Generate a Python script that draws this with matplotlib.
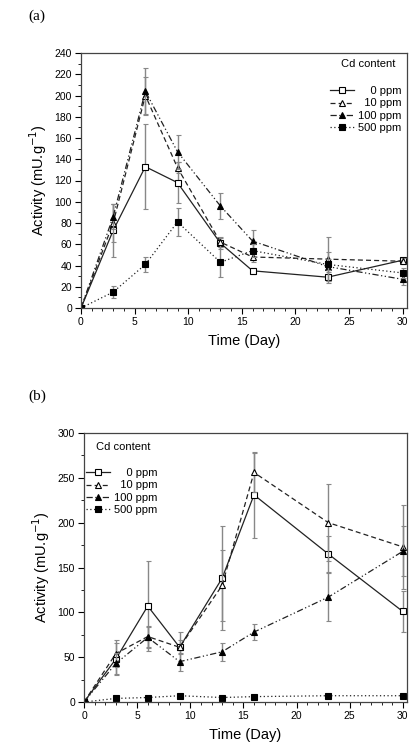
import matplotlib.pyplot as plt
from matplotlib.ticker import MultipleLocator

plt.rcParams['font.family'] = ['Liberation Sans', 'DejaVu Sans']

days = [0, 3, 6, 9, 13, 16, 23, 30]
# figure spaces keep the legend labels right-aligned
labels = ['\u2007\u20070 ppm', '\u200710 ppm', '100 ppm', '500 ppm']

# panel (a)
a_0 = [0, 73, 133, 118, 61, 35, 29, 45]
a_0_err = [0, 25, 40, 19, 5, 3, 5, 2]
a_10 = [0, 80, 200, 132, 62, 48, 46, 44]
a_10_err = [0, 18, 17, 5, 5, 5, 21, 3]
a_100 = [0, 86, 204, 147, 96, 63, 39, 27]
a_100_err = [0, 12, 22, 16, 12, 10, 14, 5]
a_500 = [0, 15, 41, 81, 43, 54, 41, 33]
a_500_err = [0, 6, 7, 13, 14, 6, 5, 5]

# panel (b)
b_0 = [0, 48, 107, 61, 138, 231, 165, 101]
b_0_err = [0, 18, 50, 17, 58, 48, 20, 23]
b_10 = [0, 54, 73, 61, 130, 256, 200, 173]
b_10_err = [0, 15, 12, 8, 40, 22, 43, 47]
b_100 = [0, 43, 72, 45, 56, 78, 117, 168]
b_100_err = [0, 12, 12, 10, 10, 9, 27, 28]
b_500 = [0, 4, 5, 7, 5, 6, 7, 7]
b_500_err = [0, 1, 1, 1, 1, 1, 1, 1]

styles = [
    dict(marker='s', ls='-', mfc='white'),
    dict(marker='^', ls=(0, (4, 2.5)), mfc='white'),
    dict(marker='^', ls=(0, (5, 2, 1, 2, 1, 2)), mfc='black'),
    dict(marker='s', ls=(0, (1, 2)), mfc='black'),
]

W, H = 420, 747


def draw(ax, series, errs, ymax, ymajor, yminor, title_xy, leg_xy):
    for y, e, st, lab in zip(series, errs, styles, labels):
        ax.errorbar(days, y, yerr=e, fmt='none', ecolor='#888888',
                    elinewidth=1.0, capsize=1.8, capthick=0.8)
        ax.plot(days, y, color='#222222', lw=0.9, ms=4.5, mec='black',
                mew=0.8, label=lab, **st)
    ax.set_xlim(0, 30.4)
    ax.set_ylim(0, ymax)
    ax.xaxis.set_major_locator(MultipleLocator(5))
    ax.xaxis.set_minor_locator(MultipleLocator(1))
    ax.yaxis.set_major_locator(MultipleLocator(ymajor))
    ax.yaxis.set_minor_locator(MultipleLocator(yminor))
    ax.tick_params(which='major', direction='out', length=4, labelsize=7.5, pad=2.5)
    ax.tick_params(which='minor', direction='out', length=2)
    for s in ax.spines.values():
        s.set_color('#444444')
        s.set_linewidth(0.9)
    ax.set_xlabel('Time (Day)', fontsize=10.5, labelpad=5)
    ax.set_ylabel('Activity (mU.g$^{-1}$)', fontsize=10.5, labelpad=4)
    fig.text(title_xy[0] / W, 1 - title_xy[1] / H, 'Cd content',
             fontsize=8, ha='center', va='center')
    ax.legend(loc='upper right', bbox_to_anchor=(leg_xy[0] / W, 1 - leg_xy[1] / H),
              bbox_transform=fig.transFigure, frameon=False, borderpad=0,
              borderaxespad=0, fontsize=8, handlelength=2.2, handletextpad=0.3,
              labelspacing=0.22, markerscale=0.85)


fig = plt.figure(figsize=(4.2, 7.47), dpi=100)
ax1 = fig.add_axes([81 / W, 1 - 308 / H, 326 / W, 255 / H])
ax2 = fig.add_axes([84 / W, 1 - 702 / H, 323 / W, 269 / H])

draw(ax1, [a_0, a_10, a_100, a_500], [a_0_err, a_10_err, a_100_err, a_500_err],
     240, 20, 10, (368, 64), (401, 86))
draw(ax2, [b_0, b_10, b_100, b_500], [b_0_err, b_10_err, b_100_err, b_500_err],
     300, 50, 25, (123, 447), (157, 468))

fig.text(28 / W, 1 - 16 / H, '(a)', family='Liberation Serif', fontsize=11, va='center')
fig.text(28 / W, 1 - 396 / H, '(b)', family='Liberation Serif', fontsize=11, va='center')

fig.savefig('out.png', dpi=100)
